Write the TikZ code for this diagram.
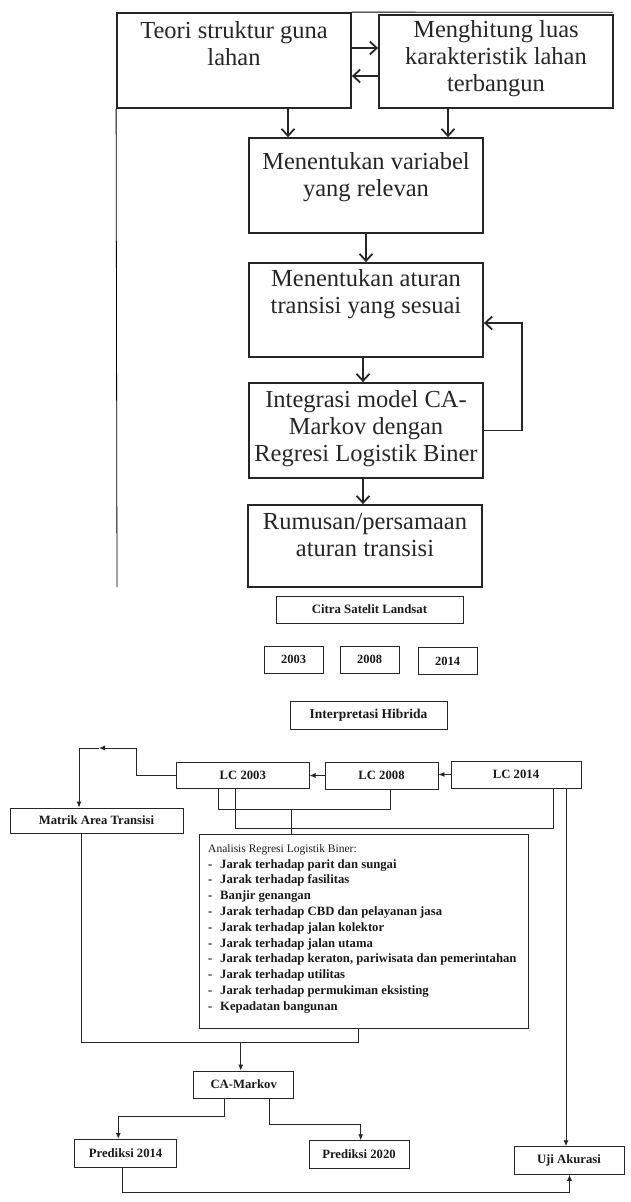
\documentclass[tikz,border=0pt]{standalone}
\usepackage{fontspec}
\setmainfont{Liberation Serif}
\usetikzlibrary{arrows.meta}
\newcommand\tbox[4]{\parbox[c][#2][t]{#1}{\centering\vspace*{#3}\strut #4}}
\begin{document}
\begin{tikzpicture}[x=1pt,y=-1pt,
  tb/.style={draw=black!85, line width=1.8pt, inner sep=0pt, text=black!85,
    font=\fontsize{24.5}{27}\selectfont},
  bb/.style={draw=black!85, line width=0.9pt, inner sep=0pt, text=black!90,
    font=\bfseries\fontsize{12.7}{15.8}\selectfont},
  tarrow/.style={draw=black!85, line width=1.8pt, -{Straight Barb[length=7pt,width=13pt]}},
  frame/.style={draw=black, line width=0.8pt},
  bline/.style={draw=black!85, line width=0.9pt},
  barrow/.style={bline, -{Latex[length=6pt,width=5pt]}}
]
\useasboundingbox (0,0) rectangle (630,1202);

% ---------- upper flow chart ----------
\node[tb] (b1) at (234,60.5) {\tbox{234pt}{95pt}{7pt}{Teori struktur guna\\lahan}};
\node[tb] (b2) at (496,61.5) {\tbox{234pt}{93pt}{4pt}{Menghitung luas\\karakteristik lahan\\terbangun}};
\node[tb] (b3) at (366,185.5) {\tbox{234pt}{95pt}{13pt}{Menentukan variabel\\yang relevan}};
\node[tb] (b4) at (366,310) {\tbox{234pt}{94pt}{5pt}{Menentukan aturan\\transisi yang sesuai}};
\node[tb] (b5) at (366,430.5) {\tbox{234pt}{95pt}{6pt}{Integrasi model CA-\\Markov dengan\\Regresi Logistik Biner}};
\node[tb] (b6) at (365,546) {\tbox{234pt}{82pt}{6pt}{Rumusan/persamaan\\aturan transisi}};

\coordinate (leftend) at (117,587);
\coordinate (topend) at (613,12.3);
\draw[frame] (b1.south west) -- (leftend);
\draw[frame] (b1.north east) -- (topend);

\draw[tarrow] ([yshift=12.5pt]b1.east) -- ([yshift=12.5pt]b1.east -| b2.west);
\draw[tarrow] ([yshift=-14.5pt]b2.west) -- ([yshift=-14.5pt]b2.west -| b1.east);
\draw[tarrow] ([xshift=54pt]b1.south) -- ([xshift=54pt]b1.south |- b3.north);
\draw[tarrow] ([xshift=-48pt]b2.south) -- ([xshift=-48pt]b2.south |- b3.north);
\draw[tarrow] (b3.south) -- (b4.north);
\draw[tarrow] ([xshift=-3pt]b4.south) -- ([xshift=-3pt]b4.south |- b5.north);
\draw[tarrow] ([xshift=-3pt]b5.south) -- ([xshift=-3pt]b5.south |- b6.north);
\draw[tarrow] (b5.east) -- ++(38,0) |- ([yshift=-13pt]b4.east);

% ---------- lower flow chart ----------
\node[bb, font=\bfseries\fontsize{12.8}{15}\selectfont, minimum width=187pt, minimum height=27pt] (cit) at (369.5,609.5) {Citra Satelit Landsat};
\node[bb, font=\bfseries\fontsize{12.5}{15}\selectfont, minimum width=59pt, minimum height=27pt] (y03) at (293.5,659.5) {2003};
\node[bb, font=\bfseries\fontsize{12.5}{15}\selectfont, minimum width=59pt, minimum height=27pt] (y08) at (369.5,659.5) {2008};
\node[bb, font=\bfseries\fontsize{12.5}{15}\selectfont, minimum width=59pt, minimum height=27pt] (y14) at (447.5,661) {2014};
\node[bb, font=\bfseries\fontsize{13.5}{15}\selectfont, minimum width=157pt, minimum height=28pt] (hib) at (368.5,715) {Interpretasi Hibrida};

\node[bb, minimum width=132.5pt, minimum height=26pt] (lc03) at (242.8,775) {LC 2003};
\node[bb, minimum width=113pt, minimum height=27pt] (lc08) at (381.5,775.5) {LC 2008};
\node[bb, minimum width=130pt, minimum height=27pt] (lc14) at (516,774.5) {LC 2014};
\node[bb, minimum width=173pt, minimum height=25pt] (mat) at (96.5,820.5) {Matrik Area Transisi};
\node[bb, minimum width=329pt, minimum height=194pt] (ana) at (363.5,931) {};
\node[inner sep=0pt, anchor=north west, text=black!90, font=\bfseries\fontsize{12.7}{15.8}\selectfont] (anatxt) at (208,841)
  {\parbox{315pt}{\raggedright\strut{\mdseries\fontsize{11.5}{15.8}\selectfont Analisis Regresi Logistik Biner:}\\
   \makebox[12pt][l]{-}Jarak terhadap parit dan sungai\\
   \makebox[12pt][l]{-}Jarak terhadap fasilitas\\
   \makebox[12pt][l]{-}Banjir genangan\\
   \makebox[12pt][l]{-}Jarak terhadap CBD dan pelayanan jasa\\
   \makebox[12pt][l]{-}Jarak terhadap jalan kolektor\\
   \makebox[12pt][l]{-}Jarak terhadap jalan utama\\
   \makebox[12pt][l]{-}Jarak terhadap keraton, pariwisata dan pemerintahan\\
   \makebox[12pt][l]{-}Jarak terhadap utilitas\\
   \makebox[12pt][l]{-}Jarak terhadap permukiman eksisting\\
   \makebox[12pt][l]{-}Kepadatan bangunan}};
\node[bb, minimum width=99.7pt, minimum height=27pt] (cam) at (243.7,1084.5) {CA-Markov};
\node[bb, minimum width=101.8pt, minimum height=28pt] (p14) at (125.6,1153.3) {Prediksi 2014};
\node[bb, minimum width=100pt, minimum height=27.6pt] (p20) at (359,1154.5) {Prediksi 2020};
\node[bb, minimum width=110pt, minimum height=27.6pt] (uji) at (569,1160.5) {Uji Akurasi};

\coordinate (k1) at (136,748);
\coordinate (k2) at (99,748);
\coordinate (k3) at (79,748);
\draw[barrow] (lc03.west) -| (k1) -- (k2);
\draw[barrow] (k2) -- (k3) -- (k3 |- mat.north);
\draw[barrow] (lc08.west) -- (lc08.west -| lc03.east);
\draw[barrow] (lc14.west) -- (lc14.west -| lc08.east);

\coordinate (j1) at (291,809);
\draw[bline] ([xshift=-24.8pt]lc03.south) |- (j1) -| ([xshift=8.5pt]lc08.south);
\draw[bline] (j1) -- (j1 |- ana.north);
\coordinate (j2) at (553,828);
\draw[bline] ([xshift=-7.3pt]lc03.south) |- (j2) -- (j2 |- lc14.south);
\draw[barrow] ([xshift=50pt]lc14.south) -- ([xshift=50pt]lc14.south |- uji.north);

\coordinate (j3) at (240.7,1042);
\draw[bline] ([xshift=-15.5pt]mat.south) |- (j3) -| ([xshift=-5pt]ana.south);
\draw[barrow] (j3) -- (j3 |- cam.north);
\coordinate (j4) at (118.3,1116.7);
\draw[barrow] ([xshift=-19.7pt]cam.south) |- (j4) -- (j4 |- p14.north);
\coordinate (j5) at (360.7,1124);
\draw[barrow] ([xshift=26pt]cam.south) |- (j5) -- (j5 |- p20.north);
\coordinate (j6) at (569.5,1192.7);
\draw[barrow] ([xshift=-3.2pt]p14.south) |- (j6) -- (j6 |- uji.south);
\end{tikzpicture}
\end{document}
